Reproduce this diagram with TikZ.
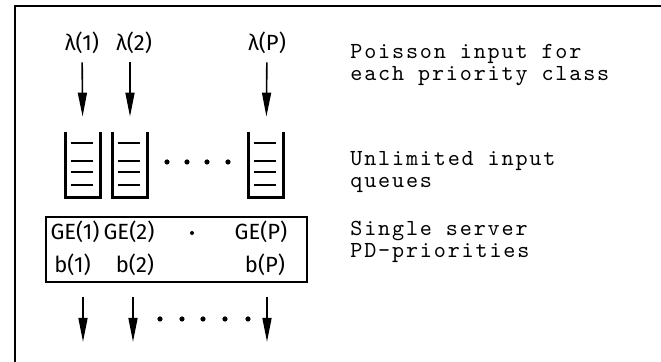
\documentclass[tikz,border=0pt]{standalone}
\usepackage{fontspec}
\setmainfont{Fira Sans}
\newfontfamily\typer{lmmono10-regular}[Extension=.otf,LetterSpace=8]
\usetikzlibrary{arrows.meta,positioning}

\begin{document}
\begin{tikzpicture}[x=0.5pt,y=-0.5pt,
    hand/.style={inner sep=0pt,font=\fontsize{11}{13}\selectfont},
    note/.style={anchor=west,align=left,inner sep=0pt,font=\typer\fontsize{11.5}{11}\selectfont},
    flow/.style={line width=0.8pt,-{Triangle[length=12pt,width=4.5pt]}},
    queue/.style={minimum width=17pt,minimum height=32.5pt,inner sep=0pt},
    server/.style={draw,line width=1pt,minimum width=130.5pt,minimum height=32.5pt}]
  \useasboundingbox (0,0) rectangle (661,362);

  % frame
  \draw[line width=1pt] (15,362) -- (15,6) -- (661,6);

  % arrival streams
  \node[hand] (l1) at (82,43) {λ(1)};
  \node[hand] (l2) at (134,43) {λ(2)};
  \node[hand] (lP) at (267,43) {λ(P)};

  % queues
  \node[queue] (q1) at (83,164.5) {};
  \node[queue] (q2) at (130,164.5) {};
  \node[queue] (qP) at (266,164.5) {};
  \foreach \q in {q1,q2,qP}{
    \draw[line width=1.2pt] (\q.north west) -- (\q.south west) -- (\q.south east) -- (\q.north east);
    \foreach \y in {-21.5,-3.5,7.5,20.5}
      \draw[line width=0.6pt] ([xshift=2.5pt,yshift=-\y*0.5pt]\q.west) -- ([xshift=-3.5pt,yshift=-\y*0.5pt]\q.east);
  }
  \foreach \x in {167,187,207,228} \fill (\x,162) circle (1.3pt);

  \draw[flow,shorten <=4pt,shorten >=7.5pt] (l1) -- (q1);
  \draw[flow,shorten <=4pt,shorten >=7.5pt] (l2.south -| q2) -- (q2);
  \draw[flow,shorten <=4pt,shorten >=7.5pt] (lP) -- (qP);

  % server
  \node[server] (srv) at (176.5,249.5) {};
  \node[hand] (g1) at (75,232) {GE(1)};
  \node[hand] (g2) at (129,232) {GE(2)};
  \node[hand] (gP) at (261,232) {GE(P)};
  \node[hand] (b1) at (72.5,265) {b(1)};
  \node[hand] (b2) at (135,265) {b(2)};
  \node[hand] (bP) at (265,265) {b(P)};
  \fill (192,233) circle (1pt);

  % departures
  \coordinate (o1) at (83,342);
  \coordinate (o2) at (133,342);
  \coordinate (oP) at (267,342);
  \foreach \o in {o1,o2,oP}
    \draw[flow,shorten <=7pt] (srv.south -| \o) -- (\o);
  \foreach \x in {160,182,203,225,248} \fill (\x,319) circle (1.3pt);

  % notes
  \node[note] (n1) at (350,65) {Poisson input for\\each priority class};
  \node[note] (n2) at (350,172) {Unlimited input\\queues};
  \node[note] (n3) at (350,242) {Single server\\PD-priorities};
\end{tikzpicture}
\end{document}
